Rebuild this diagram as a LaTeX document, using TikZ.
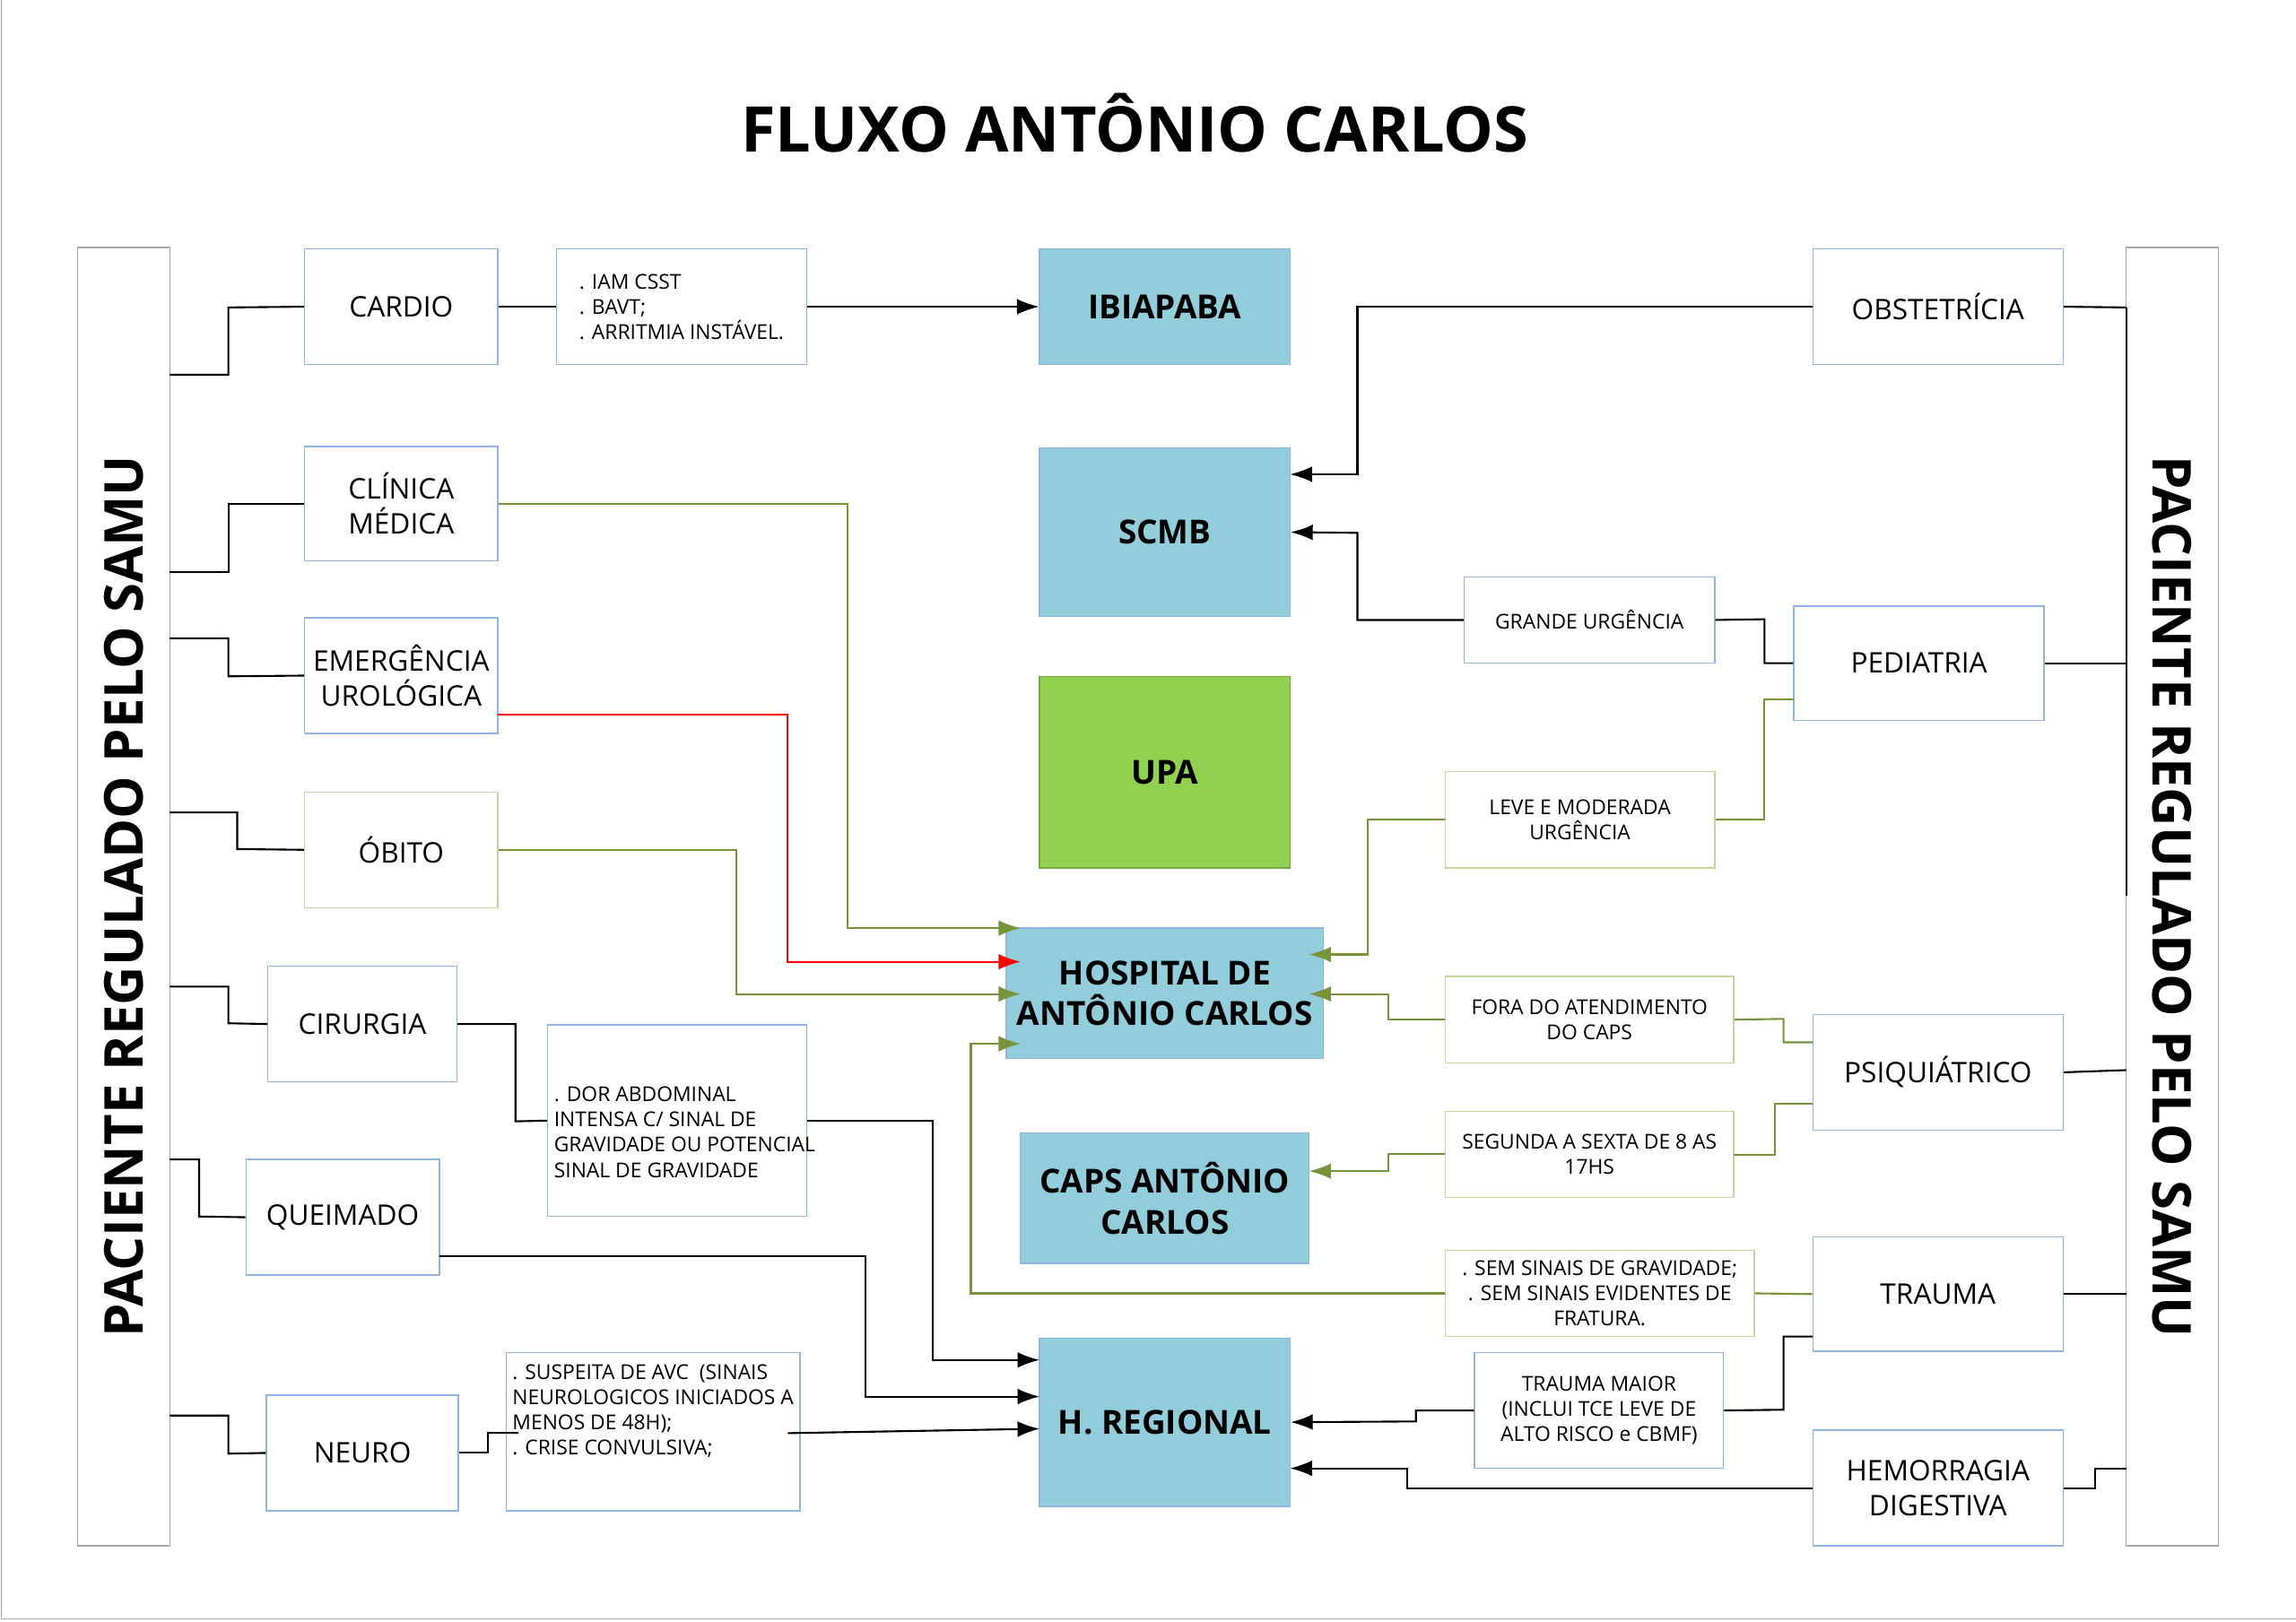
\documentclass[tikz,border=0pt]{standalone}
\usepackage{fontspec}
\setmainfont{Open Sans}
\usetikzlibrary{arrows.meta}
\definecolor{boxblue}{HTML}{8DB4E2}
\definecolor{fillblue}{HTML}{92CDDC}
\definecolor{fillgreen}{HTML}{92D050}
\definecolor{olive}{HTML}{77933C}
\definecolor{oliveline}{HTML}{C4D79B}
\begin{document}
\begin{tikzpicture}[x=0.01633cm,y=-0.01633cm,
	sz/.style 2 args={minimum width=#1*0.01633cm, minimum height=#2*0.01633cm},
	box/.style={draw=boxblue, fill=white, inner sep=2pt, align=center, font=\fontsize{9}{11}\selectfont},
	note/.style={box, font=\fontsize{6.5}{8}\selectfont},
	obox/.style={box, draw=oliveline},
	dest/.style={draw=boxblue, fill=fillblue, align=center, font=\bfseries\fontsize{10.5}{13}\selectfont},
	link/.style={black, line width=0.6pt},
	glink/.style={olive, line width=0.6pt},
	arr/.style={-{Latex[length=7pt,width=5pt]}}]
\useasboundingbox (0,0) rectangle (1568,1108);
\draw[gray!70] (1,0) -- (1,1106) -- (1568,1106);
\node at (775,84) {\bfseries\fontsize{20}{24}\selectfont FLUXO ANTÔNIO CARLOS};

% side bars
\node[draw=gray!70, sz={63}{887}] (samuL) at (84.5,612.5) {};
\node[rotate=90] at (samuL) {\bfseries\fontsize{17}{20}\selectfont PACIENTE REGULADO PELO SAMU};
\node[draw=gray!70, sz={63}{887}] (samuR) at (1483.5,612.5) {};
\node[rotate=-90] at (samuR) {\bfseries\fontsize{17}{20}\selectfont PACIENTE REGULADO PELO SAMU};

% left column
\node[box, sz={132}{79}] (cardio) at (274,209.5) {CARDIO};
\node[box, sz={132}{78}] (clinica) at (274,344) {CLÍNICA\\MÉDICA};
\node[box, sz={132}{79}] (urolog) at (274,461.5) {EMERGÊNCIA\\UROLÓGICA};
\node[obox, sz={132}{79}] (obito) at (274,580.5) {ÓBITO};
\node[box, sz={129}{79}] (cirurgia) at (247.5,699.5) {CIRURGIA};
\node[box, sz={132}{79}] (queimado) at (234,831.5) {QUEIMADO};
\node[box, sz={131}{79}] (neuro) at (247.5,992.5) {NEURO};

\node[note, sz={171}{79}, align=left] (n-cardio) at (465.5,209.5) {. IAM CSST\\. BAVT;\\. ARRITMIA INSTÁVEL.};
\node[note, sz={177}{131}] (n-cirurgia) at (462.5,765.5) {};
\node[font=\fontsize{6.5}{8}\selectfont, align=left, anchor=north west, inner sep=0pt] at (378,742) {. DOR ABDOMINAL\\INTENSA C/ SINAL DE\\GRAVIDADE OU POTENCIAL\\SINAL DE GRAVIDADE};
\node[note, sz={184}{108}, align=left] (n-neuro) at (446,978) {. SUSPEITA DE AVC \ (SINAIS\\NEUROLOGICOS INICIADOS A\\MENOS DE 48H);\\. CRISE CONVULSIVA;\\[6pt]};

% destinations
\node[dest, sz={171}{79}] (ibiapaba) at (795.5,209.5) {IBIAPABA};
\node[dest, sz={171}{115}] (scmb) at (795.5,363.5) {SCMB};
\node[dest, draw=fillgreen!80!black, fill=fillgreen, sz={171}{131}] (upa) at (795.5,527.5) {UPA};
\node[dest, sz={197}{89}] (hac) at (795.5,678.5) {HOSPITAL DE\\ANTÔNIO CARLOS};
\node[dest, sz={197}{89}] (caps) at (795.5,818.5) {CAPS ANTÔNIO\\CARLOS};
\node[dest, sz={171}{115}] (regional) at (795.5,971.5) {H. REGIONAL};

% right column
\node[box, sz={171}{79}] (obstet) at (1323.5,209.5) {OBSTETRÍCIA};
\node[note, sz={171}{59}] (grande) at (1085.5,423.5) {GRANDE URGÊNCIA};
\node[box, sz={171}{78}] (pediatria) at (1310.5,453) {PEDIATRIA};
\node[note, draw=oliveline, sz={184}{66}] (leve) at (1079,560) {LEVE E MODERADA\\URGÊNCIA};
\node[note, draw=oliveline, sz={197}{59}] (fora) at (1085.5,696.5) {FORA DO ATENDIMENTO\\DO CAPS};
\node[box, sz={171}{79}] (psiq) at (1323.5,732.5) {PSIQUIÁTRICO};
\node[note, draw=oliveline, sz={197}{59}] (segunda) at (1085.5,788.5) {SEGUNDA A SEXTA DE 8 AS\\17HS};
\node[note, draw=oliveline, sz={211}{59}] (semsinais) at (1092.5,883.5) {. SEM SINAIS DE GRAVIDADE;\\. SEM SINAIS EVIDENTES DE\\FRATURA.};
\node[box, sz={171}{78}] (trauma) at (1323.5,884) {TRAUMA};
\node[note, sz={170}{79}] (tmaior) at (1092,963.5) {TRAUMA MAIOR\\(INCLUI TCE LEVE DE\\ALTO RISCO e CBMF)};
\node[box, sz={171}{79}] (hemorr) at (1323.5,1016.5) {HEMORRAGIA\\DIGESTIVA};

% left bar links
\draw[link] (116,256) -| (156,210) -- (cardio.west);
\draw[link] (116,391) -| (156,344) -- (clinica.west);
\draw[link] (116,436) -| (156,462) -- (urolog.west);
\draw[link] (116,555) -| (162,580) -- (obito.west);
\draw[link] (116,674) -| (156,699) -- (cirurgia.west);
\draw[link] (116,792) -| (136,831) -- (queimado.west);
\draw[link] (116,967) -| (156,993) -- (neuro.west);

\draw[link] (cardio) -- (n-cardio);
\draw[link, arr] (n-cardio) -- (ibiapaba);
\draw[glink, arr] (clinica.east) -| (579,634) -- (697,634);
\draw[red, line width=0.6pt, arr] (340,488) -| (538,657) -- (697,657);
\draw[glink, arr] (obito.east) -| (503,679) -- (697,679);
\draw[link] (cirurgia.east) -| (352,766) -- (n-cirurgia.west);
\draw[link, arr] (n-cirurgia.east) -| (637,929) -- (710,929);
\draw[link, arr] (300,858) -| (591,954) -- (710,954);
\draw[link] (neuro.east) -| (333,979) -- (354,979);
\draw[link, arr] (538,979) -- (710,976);

% right side links
\draw[link] (1452,210) -- (1452,612);
\draw[link] (obstet.east) -- (1452,210);
\draw[link, arr] (obstet.west) -| (927,324) -- (881,324);
\draw[link] (pediatria.east) -- (1452,453);
\draw[link] (pediatria.west) -| (1205,423) -- (grande.east);
\draw[link, arr] (grande.west) -| (927,364) -- (scmb.east);
\draw[glink] (1225,478) -| (1205,560) -- (leve.east);
\draw[glink, arr] (leve.west) -| (934,652) -- (894,652);
\draw[link] (psiq.east) -- (1452,731);
\draw[glink] (1238,712) -| (1218,696) -- (fora.east);
\draw[glink, arr] (fora.west) -| (948,679) -- (894,679);
\draw[glink] (1238,754) -| (1212,789) -- (1184,789);
\draw[glink, arr] (segunda.west) -| (948,800) -- (894,800);
\draw[link] (trauma.east) -- (1452,884);
\draw[glink] (trauma.west) -- (semsinais.east);
\draw[glink, arr] (semsinais.west) -| (663,713) -- (697,713);
\draw[link] (1238,913) -| (1218,963) -- (tmaior.east);
\draw[link, arr] (tmaior.west) -| (967,971) -- (regional.east);
\draw[link] (hemorr.east) -| (1431,1003) -- (1452,1003);
\draw[link, arr] (hemorr.west) -| (961,1003) -- (881,1003);
\end{tikzpicture}
\end{document}
